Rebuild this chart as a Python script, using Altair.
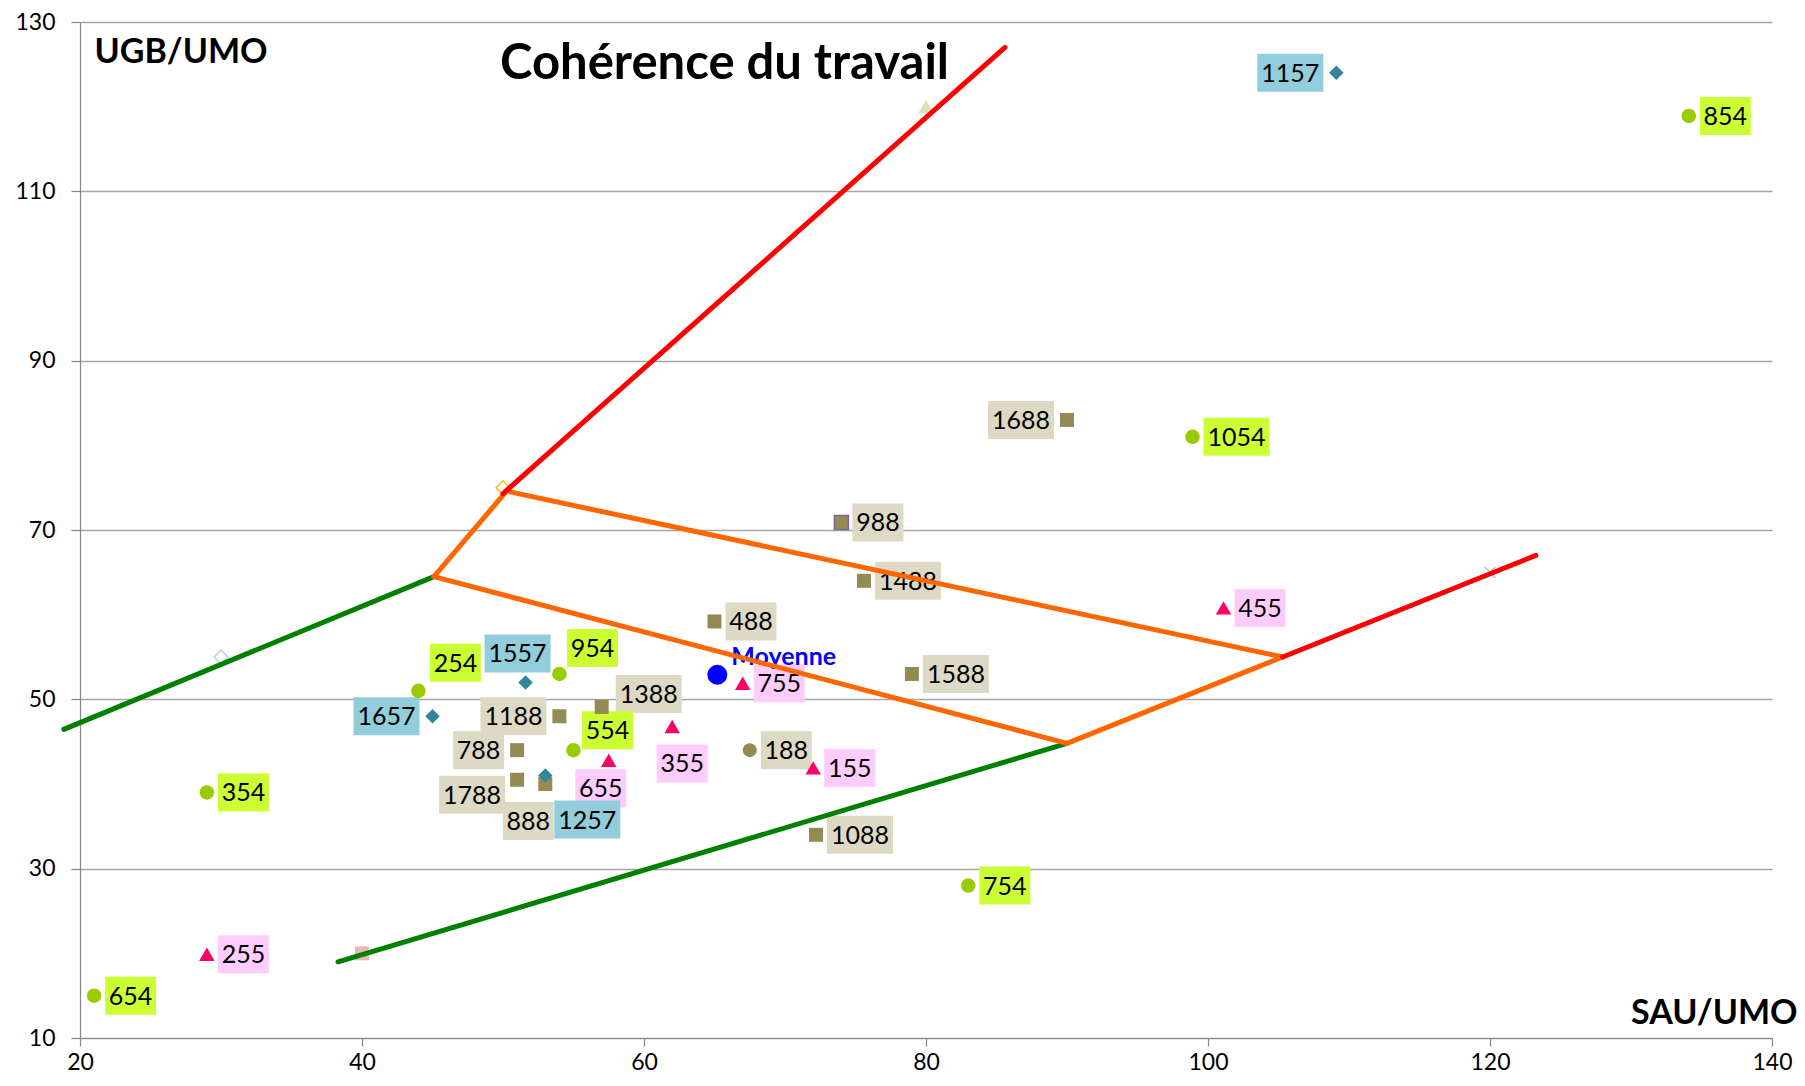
import altair as alt
import pandas as pd

# ---------------- data ----------------
labels = ["1157", "854", "1688", "1054", "988", "1488", "455", "488", "755", "1588",
          "254", "1557", "954", "1657", "1188", "1388", "554", "355", "655", "788",
          "1788", "888", "1257", "188", "155", "1088", "354", "754", "255", "654"]
sau = [109.1, 134.1, 90.0, 98.9, 74.0, 75.6, 101.1, 65.0, 67.0, 79.0,
       44.0, 51.6, 54.0, 45.0, 54.0, 57.0, 55.0, 62.0, 57.5, 51.0,
       51.0, 53.0, 53.0, 67.5, 72.0, 72.2, 29.0, 83.0, 29.0, 21.0]
ugb = [124.0, 118.9, 83.0, 81.0, 70.9, 64.0, 60.8, 59.2, 51.9, 53.0,
       51.0, 52.0, 53.0, 48.0, 48.0, 49.1, 44.0, 46.8, 42.8, 44.0,
       40.5, 40.0, 41.0, 44.0, 41.9, 34.0, 39.0, 28.0, 19.9, 15.0]
groups = ["teal", "green", "olive", "green", "olive", "olive", "pink", "olive", "pink", "olive",
          "green", "teal", "green", "teal", "olive", "olive", "green", "pink", "pink", "olive",
          "olive", "olive", "teal", "olivec", "pink", "olive", "green", "green", "pink", "green"]

# faint helper markers
extra_x = [80.0, 30.0, 50.0, 40.0, 120.0]
extra_y = [120.0, 55.0, 75.0, 20.0, 65.0]
extra_kind = ["tri_faint", "dia_blue", "dia_orange", "sq_faint", "x_faint"]

# average point
moy_label = "Moyenne"
moy_x = [65.2]
moy_y = [52.9]

# zone boundary lines
seg_id = ["g1", "g1", "g2", "g2", "o1", "o1", "o2", "o2", "o3", "o3", "o4", "o4", "r1", "r1", "r2", "r2"]
seg_x = [18.85, 45.1, 38.3, 90.0, 45.1, 50.1, 50.5, 105.3, 45.1, 90.0, 90.0, 105.3, 50.0, 85.6, 105.3, 123.25]
seg_y = [46.45, 64.5, 19.0, 44.8, 64.5, 74.3, 74.5, 55.0, 64.5, 44.8, 44.8, 55.0, 74.3, 127.0, 55.0, 67.0]
seg_kind = ["green", "green", "green", "green", "orange", "orange", "orange", "orange",
            "orange", "orange", "orange", "orange", "red", "red", "red", "red"]

x_ticks = [20, 40, 60, 80, 100, 120, 140]
y_ticks = [10, 30, 50, 70, 90, 110, 130]

# ---------------- styles / layout ----------------
W, H = 1692, 1016
XD, YD = (20, 140), (10, 130)
PX = W / (XD[1] - XD[0])
PY = H / (YD[1] - YD[0])
FONT = "Lato"

group_style = {
    "teal":   dict(shape="diamond", fill="#31859C", box="#92CDDC", size=210),
    "green":  dict(shape="circle", fill="#99CC00", box="#CCFF33", size=210),
    "olive":  dict(shape="square", fill="#948A54", box="#DDD9C4", size=196),
    "pink":   dict(shape="triangle-up", fill="#FF0066", box="#FFCCFF", size=240),
    "olivec": dict(shape="circle", fill="#948A54", box="#DDD9C4", size=196),
}
extra_style = {
    "tri_faint":  dict(shape="triangle-up", fill="#D7E4BD", stroke="#D7E4BD", size=240, sw=0),
    "dia_blue":   dict(shape="diamond", fill="transparent", stroke="#B9CDE5", size=190, sw=1.5),
    "dia_orange": dict(shape="diamond", fill="transparent", stroke="#FFC000", size=190, sw=1.5),
    "sq_faint":   dict(shape="square", fill="#E6B9B8", stroke="#E6B9B8", size=196, sw=0),
    "x_faint":    dict(shape="M-1,-1L1,1M-1,1L1,-1", fill="transparent", stroke="#B0B0C8", size=120, sw=1.2),
}
line_colors = {"green": "#008000", "orange": "#FF6600", "red": "#FF0000"}

left_labels = {"1157", "1688", "1657", "1188", "788"}
custom_offsets = {"254": (37, -28), "1557": (-8, -29), "954": (33, -26), "1388": (47, -13),
                  "554": (34, -20), "355": (10, 37), "655": (-8, 28), "1788": (-45, 15),
                  "888": (-17, 37), "1257": (42, 44)}
BOX_H = 38

rows = []
for lab, x, y, g in zip(labels, sau, ugb, groups):
    st = group_style[g]
    w = 6 + 15 * len(lab)
    if lab in custom_offsets:
        dx, dy = custom_offsets[lab]
    elif lab in left_labels:
        dx, dy = -(13 + w / 2), 0
    else:
        dx, dy = 11 + w / 2, 0
    cx = x + dx / PX
    cy = y - dy / PY
    rows.append(dict(label=lab, x=x, y=y, cx=cx, cy=cy,
                     bx1=cx - w / 2 / PX, bx2=cx + w / 2 / PX,
                     by1=cy - BOX_H / 2 / PY, by2=cy + BOX_H / 2 / PY,
                     shape=st["shape"], fill=st["fill"], box=st["box"], size=st["size"],
                     stroke="#8064A2" if lab == "988" else st["fill"],
                     sw=1.5 if lab == "988" else 0))
pts = pd.DataFrame(rows)

extra = pd.DataFrame([dict(x=x, y=y, **extra_style[k]) for x, y, k in zip(extra_x, extra_y, extra_kind)])
moy = pd.DataFrame({"x": moy_x, "y": moy_y, "t": [moy_label]})
lines = pd.DataFrame({"seg": seg_id, "x": seg_x, "y": seg_y,
                      "col": [line_colors[k] for k in seg_kind],
                      "ord": list(range(len(seg_id)))})

xs = alt.Scale(domain=list(XD), nice=False, zero=False)
ys = alt.Scale(domain=list(YD), nice=False, zero=False)

x_axis = alt.Axis(values=x_ticks, grid=False, tickSize=8, tickColor="#868686", domainColor="#868686",
                  tickWidth=1.2, domainWidth=1.2, labelFlush=False, labelOverlap=False,
                  labelFont=FONT, labelFontSize=23, labelColor="#000000", labelPadding=5,
                  title="SAU/UMO", titleFont=FONT, titleFontSize=34, titleFontWeight="bold",
                  titleColor="#000000", titleAlign="right", titleBaseline="alphabetic",
                  titleX=W + 25, titleY=-15, titleAngle=0)
y_axis = alt.Axis(values=y_ticks, grid=True, gridColor="#A6A6A6", gridWidth=1.3,
                  tickSize=9, tickColor="#868686", domainColor="#868686", tickWidth=1.2, domainWidth=1.2,
                  labelFlush=False, labelOverlap=False,
                  labelFont=FONT, labelFontSize=23, labelColor="#000000", labelPadding=16,
                  title="UGB/UMO", titleFont=FONT, titleFontSize=34, titleFontWeight="bold",
                  titleColor="#000000", titleAngle=0, titleAlign="left", titleBaseline="alphabetic",
                  titleX=14, titleY=40)

base = alt.Chart(pts)

boxes = base.mark_rect().encode(
    x=alt.X("bx1:Q", scale=xs, axis=x_axis),
    x2="bx2:Q",
    y=alt.Y("by1:Q", scale=ys, axis=y_axis),
    y2="by2:Q",
    fill=alt.Fill("box:N", scale=None),
)

markers = base.mark_point(filled=True, opacity=1).encode(
    x=alt.X("x:Q", scale=xs),
    y=alt.Y("y:Q", scale=ys),
    shape=alt.Shape("shape:N", scale=None),
    fill=alt.Fill("fill:N", scale=None),
    stroke=alt.Stroke("stroke:N", scale=None),
    strokeWidth=alt.StrokeWidth("sw:Q", scale=None),
    size=alt.Size("size:Q", scale=None),
)

extras = alt.Chart(extra).mark_point(filled=True, opacity=1).encode(
    x=alt.X("x:Q", scale=xs),
    y=alt.Y("y:Q", scale=ys),
    shape=alt.Shape("shape:N", scale=None),
    fill=alt.Fill("fill:N", scale=None),
    stroke=alt.Stroke("stroke:N", scale=None),
    strokeWidth=alt.StrokeWidth("sw:Q", scale=None),
    size=alt.Size("size:Q", scale=None),
)

texts = base.mark_text(font=FONT, fontSize=25, color="#000000", align="center", baseline="middle", dy=1).encode(
    x=alt.X("cx:Q", scale=xs),
    y=alt.Y("cy:Q", scale=ys),
    text="label:N",
)

moy_pt = alt.Chart(moy).mark_point(filled=True, opacity=1, shape="circle", size=400, color="#0000FF").encode(
    x=alt.X("x:Q", scale=xs), y=alt.Y("y:Q", scale=ys))
moy_txt = alt.Chart(moy).mark_text(font=FONT, fontSize=25, fontWeight="bold", color="#0000FF",
                                   align="left", baseline="alphabetic", dx=14, dy=-10).encode(
    x=alt.X("x:Q", scale=xs), y=alt.Y("y:Q", scale=ys), text="t:N")

line_layer = alt.Chart(lines).mark_line(strokeWidth=5, strokeCap="round").encode(
    x=alt.X("x:Q", scale=xs),
    y=alt.Y("y:Q", scale=ys),
    detail="seg:N",
    order="ord:Q",
    color=alt.Color("col:N", scale=None),
)

title = alt.Chart(pd.DataFrame({"t": ["Cohérence du travail"]})).mark_text(
    font=FONT, fontSize=49, fontWeight="bold", color="#000000", align="left", baseline="alphabetic"
).encode(x=alt.value(420), y=alt.value(57), text="t:N")

chart = alt.layer(boxes, extras, markers, texts, moy_pt, moy_txt, line_layer, title).properties(
    width=W, height=H,
    autosize=alt.AutoSizeParams(type="none"),
    padding={"left": 72, "top": 14, "right": 25, "bottom": 40},
    background="#FFFFFF",
).configure_view(stroke=None)

chart.save("out.html", embed_options={"renderer": "svg", "actions": False})
